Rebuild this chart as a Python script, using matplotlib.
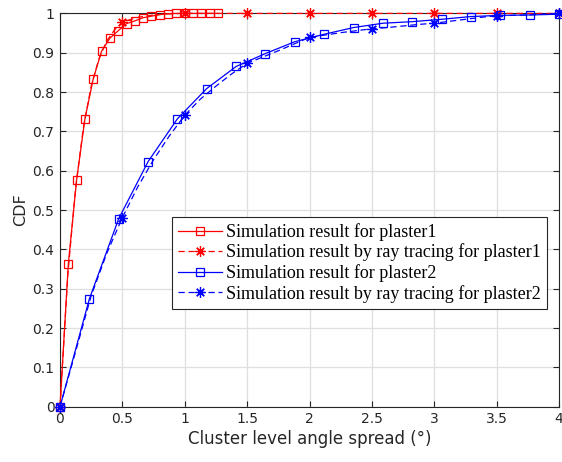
import numpy as np
import matplotlib
matplotlib.use("Agg")
import matplotlib.pyplot as plt

# ---------------- data ----------------
sim1_x = [k / 15 for k in range(20)]
sim1_y = [0, 0.363, 0.577, 0.732, 0.834, 0.904, 0.937, 0.956, 0.974, 0.981,
          0.989, 0.993, 0.997, 0.999, 1.0, 1.0, 1.0, 1.0, 1.0, 1.0]

ray1_x = [0, 0.0625, 0.125, 0.1875, 0.25, 0.3125, 0.375, 0.4375, 0.5, 0.625,
          0.75, 0.875, 1.0, 1.5, 2.0, 2.5, 3.0, 3.5, 4.0]
ray1_y = [0, 0.335, 0.555, 0.71, 0.815, 0.885, 0.93, 0.958, 0.978, 0.99,
          0.996, 0.999, 1.0, 1.0, 1.0, 1.0, 1.0, 1.0, 1.0]

sim2_x = [k * 4 / 17 for k in range(18)]
sim2_y = [0, 0.274, 0.478, 0.623, 0.732, 0.809, 0.865, 0.898, 0.928, 0.947,
          0.964, 0.975, 0.979, 0.985, 0.992, 0.995, 0.996, 0.998]

ray2_x = [k * 0.125 for k in range(33)]
ray2_y = [0, 0.14, 0.282, 0.39, 0.481, 0.56, 0.628, 0.688, 0.741, 0.782,
          0.815, 0.846, 0.873, 0.889, 0.905, 0.922, 0.939, 0.945, 0.951, 0.956,
          0.961, 0.964, 0.968, 0.972, 0.975, 0.98, 0.985, 0.99, 0.994, 0.995,
          0.996, 0.998, 1.0]

labels = ["Simulation result for plaster1",
          "Simulation result by ray tracing for plaster1",
          "Simulation result for plaster2",
          "Simulation result by ray tracing for plaster2"]

xticks = [0, 0.5, 1, 1.5, 2, 2.5, 3, 3.5, 4]
xticklabels = ["0", "0.5", "1", "1.5", "2", "2.5", "3", "3.5", "4"]
yticks = [i / 10 for i in range(11)]
yticklabels = ["0", "0.1", "0.2", "0.3", "0.4", "0.5", "0.6", "0.7", "0.8", "0.9", "1"]

# ---------------- plot ----------------
plt.rcParams['font.family'] = ['DejaVu Sans']

fig = plt.figure(figsize=(5.62, 4.62), dpi=100)
ax = fig.add_axes([60 / 562, 1 - 406.7 / 462, 499 / 562, 393.3 / 462])

star = (8, 2, 0)
ms_sq = 6
ms_st = 7.5
lw = 0.9

def stars_every(xs):
    return [i for i, v in enumerate(xs) if abs((v / 0.5) - round(v / 0.5)) < 1e-9]

ax.plot(sim1_x, sim1_y, '-', color='red', lw=lw, marker='s', ms=ms_sq,
        mfc='none', mew=0.9, clip_on=False, label=labels[0], zorder=3)
ax.plot(ray1_x, ray1_y, '--', color='red', lw=lw, marker=star, ms=ms_st,
        mew=0.9, markevery=stars_every(ray1_x), clip_on=False, label=labels[1],
        dashes=(5, 3), zorder=3)
ax.plot(sim2_x, sim2_y, '-', color='blue', lw=lw, marker='s', ms=ms_sq,
        mfc='none', mew=0.9, clip_on=False, label=labels[2], zorder=3)
ax.plot(ray2_x, ray2_y, '--', color='blue', lw=lw, marker=star, ms=ms_st,
        mew=0.9, markevery=stars_every(ray2_x), clip_on=False, label=labels[3],
        dashes=(5, 3), zorder=3)

ax.set_xlim(0, 4)
ax.set_ylim(0, 1)
ax.set_xticks(xticks)
ax.set_xticklabels(xticklabels)
ax.set_yticks(yticks)
ax.set_yticklabels(yticklabels)

ax.grid(True, color='#dfdfdf', lw=0.9)
ax.set_axisbelow(True)
ax.tick_params(direction='in', top=True, right=True, length=4, width=0.8,
               colors='#262626', labelsize=10, pad=4)
for s in ax.spines.values():
    s.set_color('#262626')
    s.set_linewidth(0.8)

ax.set_xlabel("Cluster level angle spread (°)", fontsize=12, color='#262626', labelpad=3)
ax.set_ylabel("CDF", fontsize=11.5, color='#262626', labelpad=3)

leg = ax.legend(loc='upper left', bbox_to_anchor=((172 - 60) / 499, (406.7 - 216.7) / 393.3),
                prop={'family': 'Liberation Serif', 'size': 13},
                frameon=True, fancybox=False, edgecolor='#262626', framealpha=1,
                handlelength=2.4, handletextpad=0.25, labelspacing=0.15,
                borderpad=0.35, borderaxespad=0.0)
leg.get_frame().set_linewidth(0.8)

fig.savefig("out.png", dpi=100)
